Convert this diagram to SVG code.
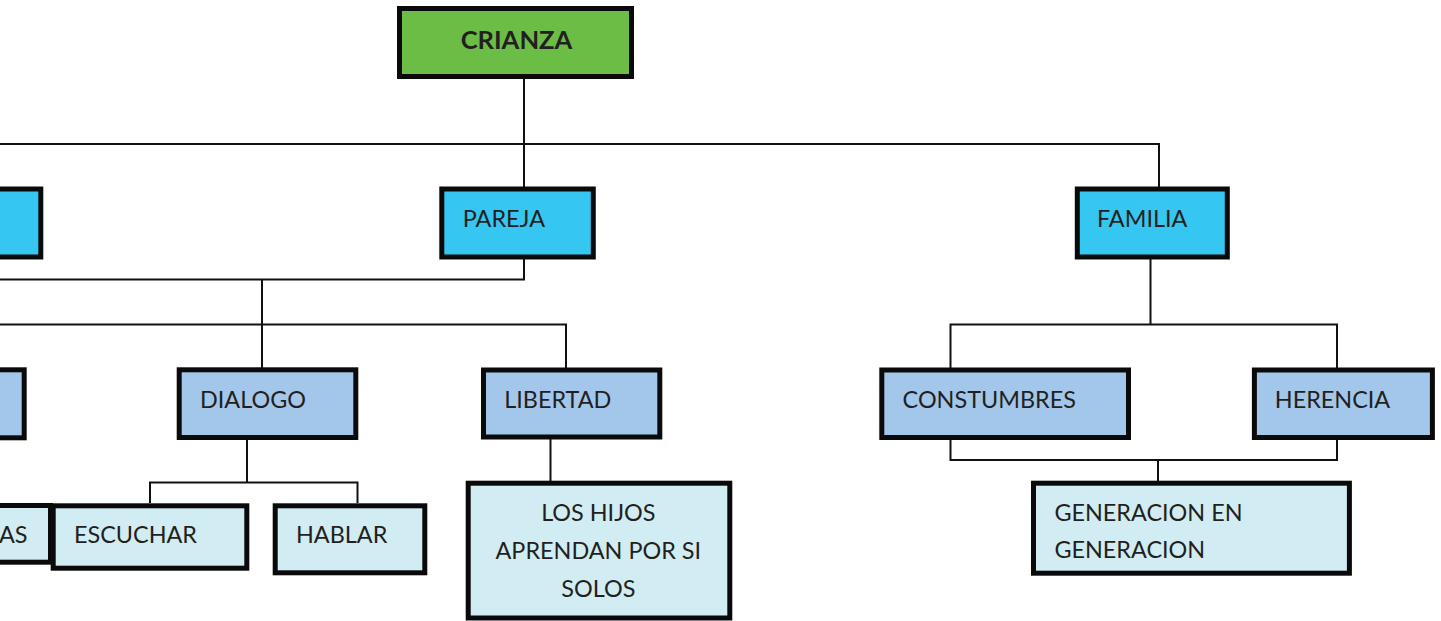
<svg xmlns="http://www.w3.org/2000/svg" width="1441" height="621" viewBox="0 0 1441 621">
<style>
.box{stroke:#0a0a0a;stroke-width:5}
.g{fill:#6BBD45}
.c{fill:#35C6F2}
.b{fill:#A2C7EA}
.p{fill:#D1ECF2}
.t{font-family:Lato,"Open Sans","Liberation Sans",sans-serif;font-size:23.4px;fill:#231F20}
.bold{font-weight:bold;font-size:25.6px}
.conn{fill:none;stroke:#111;stroke-width:2}
</style>
<rect width="1441" height="621" fill="#fff"/>
<g id="connectors" class="conn">
<path d="M524,78 V187 M0,144 H1159 V187"/>
<path d="M524,259 V279.5 H0"/>
<path d="M0,324.5 H566 V368 M262,279.5 V368"/>
<path d="M247,440 V482.5 M150,503 V482.5 H357.5 V503"/>
<path d="M550.5,439 V481"/>
<path d="M1150.5,259 V324.5 M950.5,368 V324.5 H1337 V368"/>
<path d="M950.5,440 V460 H1337 V440 M1158,460 V481"/>
</g>
<g id="crianza"><rect class="box g" x="399.5" y="8.5" width="232" height="68"/><text class="t bold" x="516.5" y="49" text-anchor="middle">CRIANZA</text></g>
<g id="left2"><rect class="box c" x="-10" y="189" width="50.8" height="68"/></g>
<g id="pareja"><rect class="box c" x="441.8" y="189" width="151.5" height="68"/><text class="t" x="462.7" y="227">PAREJA</text></g>
<g id="familia"><rect class="box c" x="1077.3" y="189" width="150" height="68"/><text class="t" x="1097" y="227">FAMILIA</text></g>
<g id="left3"><rect class="box b" x="-10" y="369.8" width="34.2" height="68"/></g>
<g id="dialogo"><rect class="box b" x="179.2" y="369.8" width="176.6" height="67.7"/><text class="t" x="200" y="407.7">DIALOGO</text></g>
<g id="libertad"><rect class="box b" x="483.5" y="370" width="176.3" height="67"/><text class="t" x="504.3" y="408">LIBERTAD</text></g>
<g id="constumbres"><rect class="box b" x="881.8" y="370" width="246.7" height="67.5"/><text class="t" x="902.6" y="407.7">CONSTUMBRES</text></g>
<g id="herencia"><rect class="box b" x="1254.4" y="370" width="178" height="67.5"/><text class="t" x="1274.8" y="407.7">HERENCIA</text></g>
<g id="left4"><rect class="box p" x="-10" y="505.5" width="60.5" height="56.7"/><text class="t" x="-1" y="542.7">AS</text></g>
<g id="escuchar"><rect class="box p" x="53.2" y="505.8" width="193.6" height="62.4"/><text class="t" x="74" y="542.7">ESCUCHAR</text></g>
<g id="hablar"><rect class="box p" x="275.2" y="505.8" width="149.6" height="67"/><text class="t" x="296" y="542.7">HABLAR</text></g>
<g id="loshijos"><rect class="box p" x="468.2" y="483.2" width="261.6" height="134.8"/><text class="t" x="598.3" y="520.7" text-anchor="middle">LOS HIJOS</text><text class="t" x="598.3" y="559" text-anchor="middle">APRENDAN POR SI</text><text class="t" x="598.3" y="596.7" text-anchor="middle">SOLOS</text></g>
<g id="generacion"><rect class="box p" x="1033.5" y="483.2" width="315.9" height="90"/><text class="t" x="1054.4" y="520.7">GENERACION EN</text><text class="t" x="1054.4" y="558.3">GENERACION</text></g>
</svg>
